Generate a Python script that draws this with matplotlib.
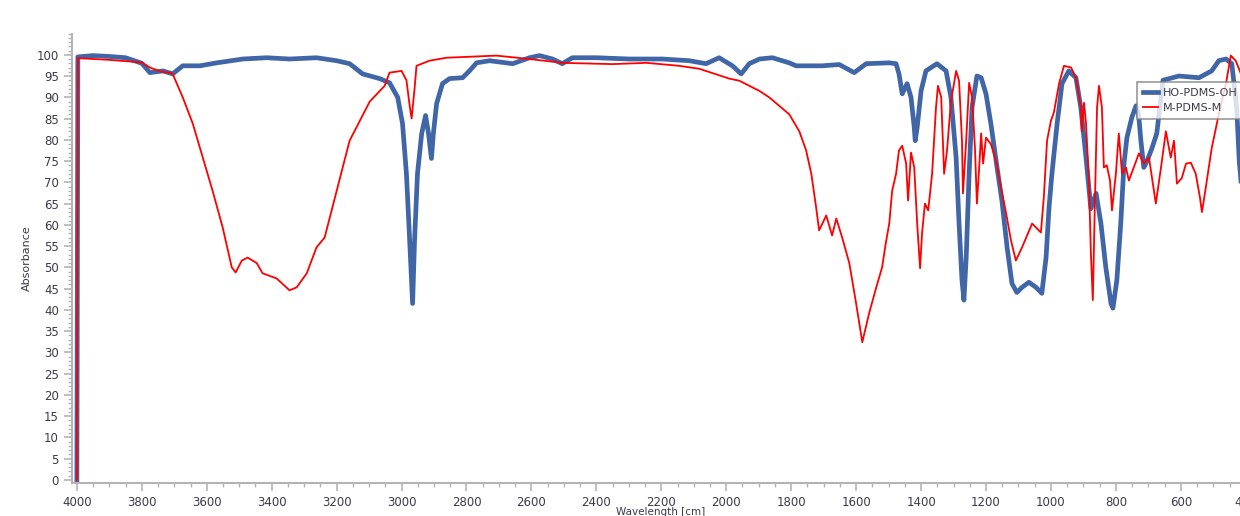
import numpy as np
import matplotlib.pyplot as plt
from matplotlib.ticker import MultipleLocator

# HO-PDMS-OH spectrum (wavenumber, absorbance)
ho_wn = [4000, 3997, 3950, 3900, 3850, 3800, 3775, 3735, 3705, 3674, 3621, 3569, 3489, 3415,
         3345, 3262, 3200, 3160, 3120, 3068, 3037, 3012, 2997, 2985, 2975, 2966, 2960, 2951,
         2938, 2926, 2917, 2908, 2902, 2892, 2874, 2852, 2812, 2791, 2769, 2729, 2658, 2606,
         2575, 2535, 2505, 2474, 2400, 2298, 2197, 2114, 2062, 2022, 1981, 1954, 1929, 1898,
         1858, 1806, 1785, 1705, 1652, 1606, 1569, 1498, 1477, 1468, 1458, 1443, 1431, 1421,
         1418, 1412, 1400, 1385, 1351, 1323, 1308, 1292, 1283, 1274, 1268, 1261, 1252, 1243,
         1228, 1215, 1200, 1185, 1166, 1151, 1135, 1120, 1105, 1089, 1068, 1046, 1028, 1015,
         1006, 997, 981, 966, 945, 923, 908, 892, 877, 861, 846, 831, 815, 809, 797, 785, 775,
         766, 751, 738, 730, 723, 714, 704, 689, 674, 655, 606, 544, 505, 483, 461, 443, 428,
         420, 412]
ho_abs = [0, 99.5, 99.8, 99.6, 99.3, 98.0, 95.8, 96.2, 95.5, 97.4, 97.4, 98.1, 99.0, 99.3,
          99.0, 99.3, 98.6, 97.9, 95.5, 94.4, 93.4, 90.0, 83.8, 72.0, 56.3, 41.5, 56.3, 72.0,
          81.5, 85.7, 81.5, 75.6, 81.5, 88.5, 93.2, 94.4, 94.6, 96.2, 98.1, 98.6, 97.9, 99.3,
          99.8, 99.0, 97.9, 99.3, 99.3, 99.0, 99.0, 98.6, 97.9, 99.3, 97.4, 95.5, 97.9, 99.0,
          99.3, 98.1, 97.4, 97.4, 97.7, 95.8, 97.9, 98.1, 97.9, 95.5, 90.8, 93.2, 90.0, 82.9,
          79.8, 82.9, 91.5, 96.2, 97.9, 96.2, 90.0, 75.8, 60.3, 47.0, 42.3, 52.3, 72.0, 87.6,
          95.0, 94.6, 90.8, 83.8, 73.5, 65.7, 54.7, 46.2, 44.1, 45.3, 46.5, 45.3, 43.9, 52.3,
          64.0, 72.0, 83.8, 93.2, 96.2, 94.6, 87.6, 75.8, 63.8, 67.4, 60.3, 50.0, 41.5, 40.4,
          47.0, 60.3, 74.4, 80.5, 85.2, 88.0, 86.0, 79.8, 73.5, 75.0, 78.0, 81.5, 94.0, 95.0,
          94.6, 96.2, 98.6, 99.0, 97.9, 87.6, 75.0, 68.0]

# M-PDMS-M spectrum (wavenumber, absorbance)
m_wn = [4000, 3997, 3950, 3900, 3850, 3800, 3775, 3740, 3714, 3705, 3674, 3643, 3612, 3582,
        3551, 3523, 3511, 3492, 3474, 3446, 3428, 3385, 3345, 3323, 3292, 3262, 3237, 3200,
        3160, 3098, 3052, 3037, 3000, 2985, 2975, 2969, 2960, 2954, 2914, 2862, 2708, 2606,
        2505, 2351, 2246, 2145, 2083, 1991, 1960, 1898, 1868, 1806, 1775, 1754, 1738, 1723,
        1714, 1692, 1674, 1661, 1643, 1621, 1600, 1581, 1560, 1538, 1520, 1508, 1498, 1489,
        1477, 1468, 1458, 1446, 1440, 1431, 1421, 1412, 1403, 1397, 1388, 1378, 1366, 1354,
        1348, 1338, 1329, 1320, 1308, 1292, 1283, 1274, 1271, 1261, 1252, 1243, 1234, 1228,
        1221, 1215, 1209, 1200, 1185, 1169, 1154, 1138, 1123, 1108, 1089, 1058, 1031, 1022,
        1012, 1000, 991, 975, 960, 938, 923, 908, 905, 898, 892, 883, 877, 871, 865, 858, 852,
        843, 837, 828, 818, 812, 800, 791, 781, 769, 760, 745, 729, 714, 698, 677, 661, 646,
        631, 621, 612, 597, 584, 569, 554, 541, 535, 523, 505, 483, 461, 446, 431, 412]
m_abs = [0, 99.2, 99.0, 98.8, 98.5, 98.2, 97.0, 96.0, 95.8, 95.5, 90.0, 83.8, 75.8, 68.0,
         59.4, 50.0, 48.8, 51.6, 52.3, 51.0, 48.6, 47.4, 44.6, 45.3, 48.6, 54.7, 57.0, 68.0,
         79.8, 89.0, 92.7, 95.8, 96.2, 94.0, 88.0, 85.0, 92.0, 97.4, 98.6, 99.3, 99.8, 99.0,
         98.1, 97.8, 98.1, 97.4, 96.7, 94.4, 93.9, 91.5, 90.0, 86.0, 82.0, 77.5, 72.0, 64.0,
         58.7, 62.2, 57.5, 61.5, 57.0, 51.0, 41.5, 32.4, 39.2, 45.3, 50.0, 56.0, 60.3, 68.0,
         72.0, 77.5, 78.6, 74.4, 65.7, 77.0, 73.5, 60.3, 49.8, 58.0, 65.0, 63.4, 72.0, 87.6,
         92.7, 90.0, 72.0, 77.5, 89.0, 96.2, 93.9, 79.8, 67.4, 79.8, 93.4, 90.0, 78.0, 65.0,
         73.5, 81.5, 74.4, 80.5, 79.0, 75.0, 68.8, 62.7, 56.3, 51.6, 54.7, 60.3, 58.2, 66.4,
         79.8, 84.5, 86.4, 93.2, 97.4, 97.0, 94.6, 87.6, 82.0, 88.7, 83.8, 70.4, 53.3, 42.3,
         64.0, 87.6, 92.7, 87.6, 73.5, 74.0, 70.4, 63.4, 72.0, 81.5, 72.0, 73.5, 70.4, 73.5,
         76.8, 74.4, 75.8, 65.0, 73.5, 82.0, 75.8, 79.8, 69.7, 71.0, 74.4, 74.6, 72.0, 66.4,
         63.0, 68.8, 78.0, 86.0, 93.2, 99.8, 98.6, 95.0]

labels = ['HO-PDMS-OH', 'M-PDMS-M']

fig = plt.figure(figsize=(12.4, 5.16), dpi=100)
ax = fig.add_axes([72 / 1240, 33.5 / 516, 1177 / 1240, 449 / 516])

ax.plot(ho_wn, ho_abs, color='#4066a8', lw=3.4, label=labels[0], solid_joinstyle='round')
ax.plot(m_wn, m_abs, color='#ff0000', lw=1.3, label=labels[1])

ax.set_xlim(4015, 390)
ax.set_ylim(-0.6, 105)

ax.xaxis.set_major_locator(MultipleLocator(200))
ax.xaxis.set_minor_locator(MultipleLocator(50))
ax.yaxis.set_major_locator(MultipleLocator(5))
ax.yaxis.set_minor_locator(MultipleLocator(1))
ax.set_yticks(np.arange(0, 101, 5))

for s in ['top', 'right']:
    ax.spines[s].set_visible(False)
for s in ['left', 'bottom']:
    ax.spines[s].set_color('#b4b4b4')
    ax.spines[s].set_linewidth(1.5)

ax.tick_params(which='both', colors='#b4b4b4', labelcolor='#3a3a4a', labelsize=8.5)
ax.tick_params(which='major', length=6, width=1.2)
ax.tick_params(which='minor', length=3, width=1)

ax.set_ylabel('Absorbance', fontsize=8, color='#3a3a4a', labelpad=3)
ax.set_xlabel('Wavelength [cm]', fontsize=7.5, color='#3a3a4a', labelpad=-1)

leg = ax.legend(loc='upper left', bbox_to_anchor=(1137 / 1240, 1 - 82 / 516),
                bbox_transform=fig.transFigure, fontsize=8, frameon=True,
                fancybox=False, handlelength=1.3, handletextpad=0.5,
                borderpad=0.55, labelspacing=0.45, borderaxespad=0)
leg.get_frame().set_edgecolor('#808080')
leg.get_frame().set_linewidth(1.2)
for t in leg.get_texts():
    t.set_color('#3a3a4a')

plt.savefig('out.png', dpi=100)
